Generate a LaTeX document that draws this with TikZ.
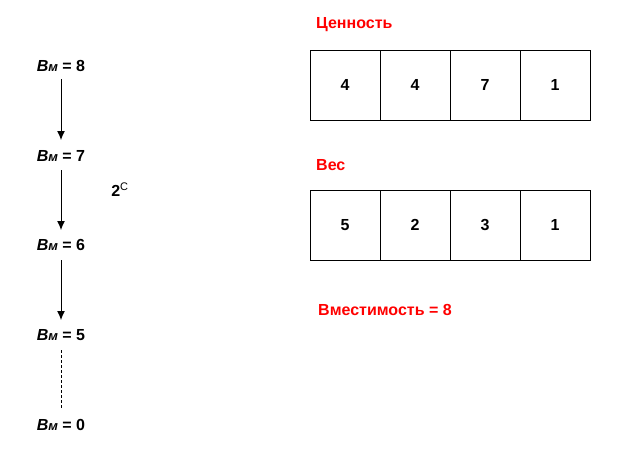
\documentclass[tikz,border=0pt]{standalone}
\usepackage{fontspec}
\setmainfont{Liberation Sans}
\usetikzlibrary{arrows.meta}
\begin{document}
\begin{tikzpicture}[x=1pt,y=-1pt,
  cell/.style={draw,line width=0.9pt,minimum width=70pt,minimum height=70pt,inner sep=0pt,font=\fontsize{16}{19}\selectfont\bfseries},
  lbl/.style={font=\fontsize{16}{19}\selectfont\bfseries,inner sep=0pt},
  redlbl/.style={lbl,text=red,anchor=west},
  arr/.style={-{Latex[length=9pt,width=8pt]},line width=1pt}]
\useasboundingbox (0,0) rectangle (620,459);
\foreach \v [count=\i] in {4,4,7,1}
  \node[cell] (v\i) at ({310+70*\i-35},85) {\v};
\foreach \v [count=\i] in {5,2,3,1}
  \node[cell] (w\i) at ({310+70*\i-35},225) {\v};
\node[redlbl] (tval) at (316,25) {Ценность};
\node[redlbl] (tw) at (316,165) {Вес};
\node[redlbl] (tcap) at (318,310) {Вместимость = 8};
\node[lbl] (b8) at (61,66) {\textit{В\fontsize{13}{15}\selectfont м} = 8};
\node[lbl] (b7) at (61,156) {\textit{В\fontsize{13}{15}\selectfont м} = 7};
\node[lbl] (b6) at (61,245) {\textit{В\fontsize{13}{15}\selectfont м} = 6};
\node[lbl] (b5) at (61,335) {\textit{В\fontsize{13}{15}\selectfont м} = 5};
\node[lbl] (b0) at (61,425) {\textit{В\fontsize{13}{15}\selectfont м} = 0};
\node[lbl] (two) at (120,190) {2\textsuperscript{\normalfont\fontsize{11}{13}\selectfont C}};
\draw[arr] ([yshift=-13pt]b8.center) -- ([yshift=16pt]b7.center);
\draw[arr] ([yshift=-14pt]b7.center) -- ([yshift=15pt]b6.center);
\draw[arr] ([yshift=-15pt]b6.center) -- ([yshift=15pt]b5.center);
\draw[dashed,dash pattern=on 3pt off 2pt,line width=1pt] ([yshift=-15pt]b5.center) -- ([yshift=17pt]b0.center);
\end{tikzpicture}
\end{document}
